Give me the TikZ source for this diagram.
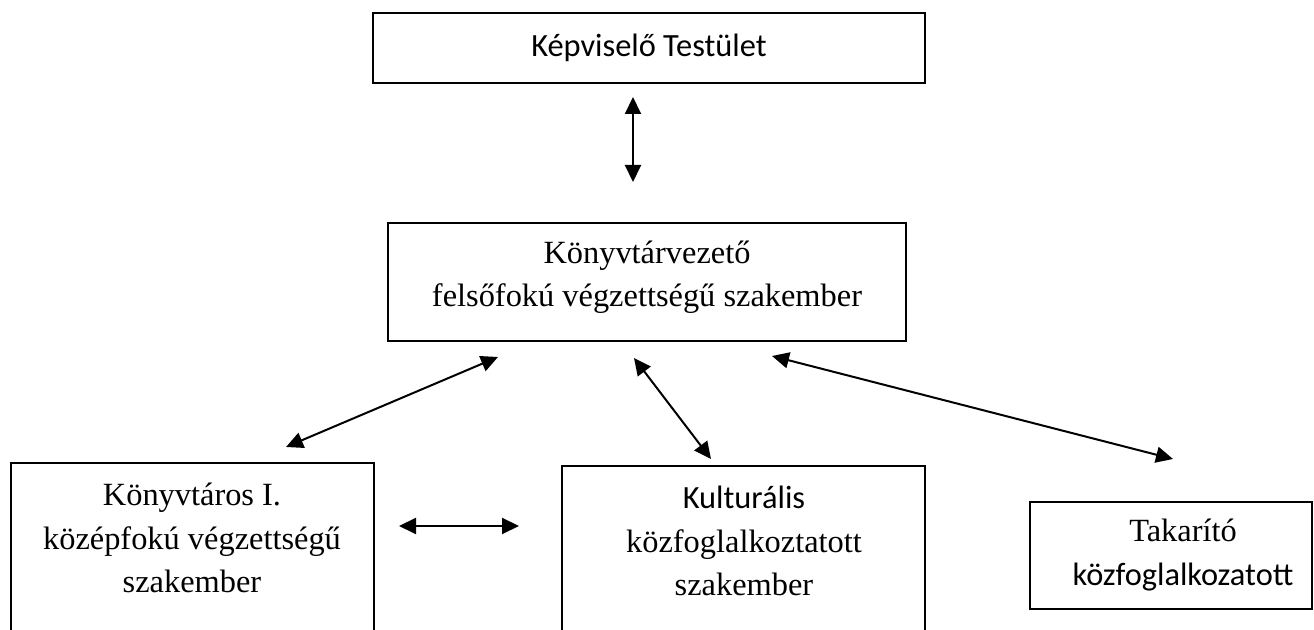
\documentclass[tikz,border=0pt]{standalone}
\usepackage{fontspec}
\setmainfont{Liberation Serif}
\newfontfamily\calfont{Carlito}
\usetikzlibrary{arrows.meta}
\begin{document}
\begin{tikzpicture}[x=0.5pt,y=-0.5pt,
  box/.style={draw, line width=1pt, inner sep=0pt},
  lbl/.style={align=center, inner sep=0pt, font=\fontsize{16.2}{21.7}\selectfont},
  link/.style={line width=1pt, {Triangle[length=8.5pt,width=8pt]}-{Triangle[length=8.5pt,width=8pt]}}]
\useasboundingbox (0,0) rectangle (1314,630);
\clip (0,0) rectangle (1314,630);
\fill[white] (0,0) rectangle (1314,630);

% boxes
\node[box, minimum width=276pt, minimum height=35pt] (kt) at (649,48) {};
\node[box, minimum width=259pt, minimum height=59pt] (kv) at (647,282) {};
\node[box, minimum width=181.5pt, minimum height=118.5pt] (ko) at (192.5,581.5) {};
\node[box, minimum width=181.5pt, minimum height=117pt] (ku) at (743.5,583) {};
\node[box, minimum width=141pt, minimum height=53.5pt] (ta) at (1171,555.5) {};

% texts
\node[lbl] (tkt) at (649,48) {\calfont Képviselő Testület};
\node[lbl] (tkv) at (647,277) {Könyvtárvezető\\felsőfokú végzettségű szakember};
\node[lbl] (tko) at (192,538) {Könyvtáros I.\\középfokú végzettségű\\szakember};
\node[lbl] (tku) at (744,541) {{\calfont Kulturális}\\közfoglalkoztatott\\szakember};
\node[lbl] (tta) at (1183,555) {Takarító\\{\calfont közfoglalkozatott}};

% arrow end points
\coordinate (a1) at (633,97);
\coordinate (a2) at (633,182);
\coordinate (b1) at (498,357);
\coordinate (b2) at (286,447);
\coordinate (c1) at (634,358);
\coordinate (c2) at (711,459);
\coordinate (d1) at (772,356);
\coordinate (d2) at (1173,459);
\coordinate (e1) at (399,526);
\coordinate (e2) at (519,526);

\draw[link] (a1) -- (a2);
\draw[link] (b1) -- (b2);
\draw[link] (c1) -- (c2);
\draw[link] (d1) -- (d2);
\draw[link] (e1) -- (e2);
\end{tikzpicture}
\end{document}
